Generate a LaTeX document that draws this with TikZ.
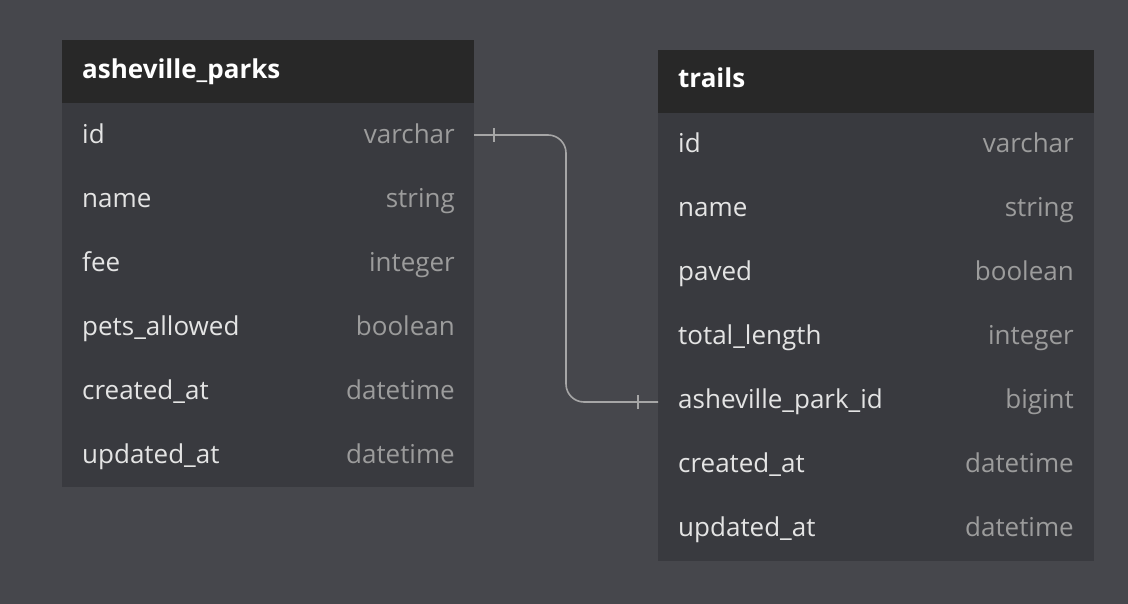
\documentclass[tikz,border=0pt]{standalone}
\usepackage{fontspec}
\setmainfont{Open Sans}
\usepackage{tikz}

\definecolor{canvasgray}{HTML}{46474C}
\definecolor{bodygray}{HTML}{393A3F}
\definecolor{headgray}{HTML}{282828}
\definecolor{namegray}{HTML}{E4E4E4}
\definecolor{typegray}{HTML}{9C9C9C}
\definecolor{linkgray}{HTML}{A6A6A6}

\tikzset{
  colname/.style={anchor=base west, inner sep=0pt, text=namegray, font=\fontsize{26}{30}\selectfont},
  coltype/.style={anchor=base east, inner sep=0pt, text=typegray, font=\fontsize{26}{30}\selectfont},
  tabtitle/.style={anchor=base west, inner sep=0pt, text=white, font=\bfseries\fontsize{26}{30}\selectfont},
  link/.style={linkgray, line width=1.6pt},
}

\begin{document}
\begin{tikzpicture}[x=1pt, y=-1pt]
\useasboundingbox (0,0) rectangle (1128,604);
\fill[canvasgray] (0,0) rectangle (1128,604);
%
% asheville_parks
\fill[bodygray] (62,103) rectangle (474,487);
\fill[headgray] (62,40) rectangle (474,103);
\node[tabtitle] (parks) at (82,79) {asheville\_parks};
\foreach \n/\t [count=\i from 0] in {id/varchar, name/string, fee/integer,
    pets\_allowed/boolean, created\_at/datetime, updated\_at/datetime}
{
  \node[colname] (parks-name-\i) at (82,144+63.9*\i) {\n};
  \node[coltype] (parks-type-\i) at (455,144+63.9*\i) {\t};
}
%
% trails
\fill[bodygray] (658,113) rectangle (1094,561);
\fill[headgray] (658,50) rectangle (1094,113);
\node[tabtitle] (trails) at (678,88) {trails};
\foreach \n/\t [count=\i from 0] in {id/varchar, name/string, paved/boolean,
    total\_length/integer, asheville\_park\_id/bigint, created\_at/datetime,
    updated\_at/datetime}
{
  \node[colname] (trails-name-\i) at (678,152.5+64*\i) {\n};
  \node[coltype] (trails-type-\i) at (1074,152.5+64*\i) {\t};
}
%
% one-to-one link
\coordinate (parks-id) at (474,135);
\coordinate (trails-parkid) at (658,402);
\draw[link, rounded corners=18pt] (parks-id) -- ++(92,0) |- (trails-parkid);
\draw[link] ([xshift=20pt, yshift=-7pt]parks-id) -- ([xshift=20pt, yshift=7pt]parks-id);
\draw[link] ([xshift=-20pt, yshift=-7pt]trails-parkid) -- ([xshift=-20pt, yshift=7pt]trails-parkid);
\end{tikzpicture}
\end{document}
